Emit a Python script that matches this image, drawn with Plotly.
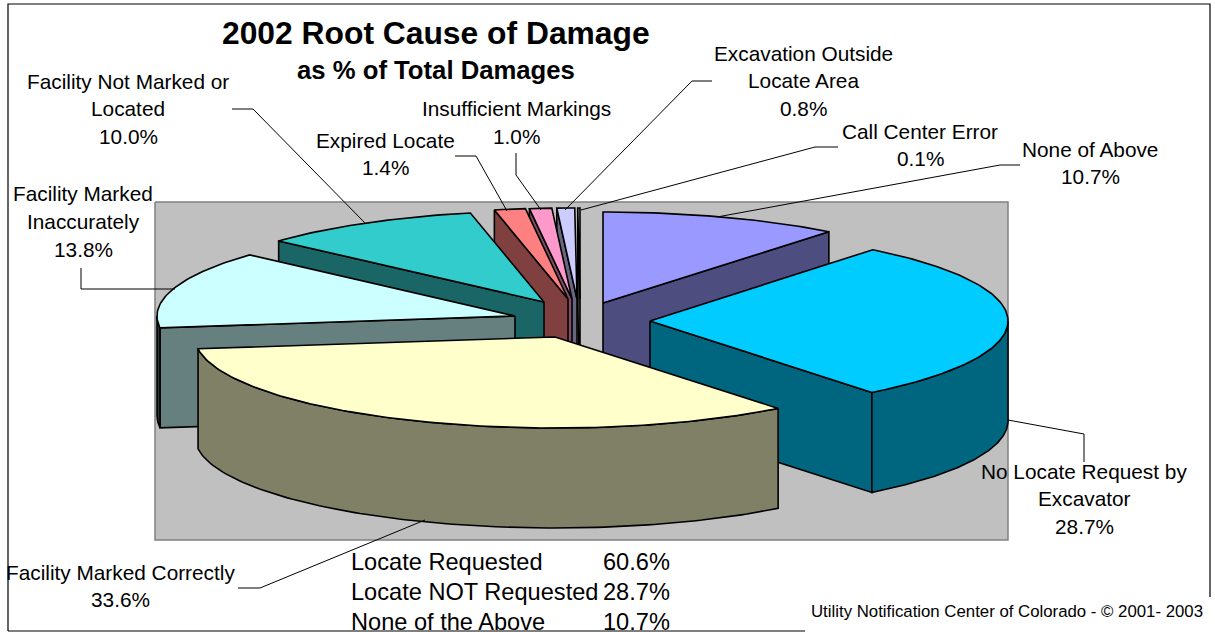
import numpy as np
import plotly.graph_objects as go

# ---- data ----
categories = ["None of Above", "No Locate Request by Excavator", "Facility Marked Correctly",
              "Facility Marked Inaccurately", "Facility Not Marked or Located", "Expired Locate",
              "Insufficient Markings", "Excavation Outside Locate Area", "Call Center Error"]
values = [10.7, 28.7, 33.6, 13.8, 10.0, 1.4, 1.0, 0.8, 0.1]
summary_labels = ["Locate Requested", "Locate NOT Requested", "None of the Above"]
summary_values = [60.6, 28.7, 10.7]

# ---- projection / style ----
RY, DEPTH = 91, 100
radius_x = [363, 358, 360, 358, 358, 358, 358, 358, 358]
apex_x = [603, 650, 555, 515, 544, 568, 572, 577, 580]
apex_y = [303, 321, 337, 316, 302, 299, 299, 299, 299]
top_col = ["#9999FF", "#00CCFF", "#FFFFCC", "#CCFFFF", "#33CCCC", "#FF8080", "#FF99CC", "#CCCCFF", "#C0C0C0"]
cut_col = ["#4D4D80", "#006680", "#808066", "#668080", "#1A6666", "#804040", "#804D66", "#666680", "#606060"]
rim_col = ["#4D4D80", "#006680", "#808066", "#283333", "#1A6666", "#804040", "#804D66", "#666680", "#606060"]
draw_order = [8, 7, 6, 5, 4, 3, 0, 1, 2]

fig = go.Figure()


def poly(xs, ys, fill, lw=1.6, color="black"):
    fig.add_trace(go.Scatter(x=list(xs), y=list(ys), mode="lines", fill="toself", fillcolor=fill,
                             line=dict(color=color, width=lw), hoverinfo="skip", showlegend=False))


def line(xs, ys, color="black", lw=1):
    fig.add_trace(go.Scatter(x=xs, y=ys, mode="lines", line=dict(color=color, width=lw),
                             hoverinfo="skip", showlegend=False))


# frame and plot area
line([8, 8, 1210, 1210], [631, 4, 4, 597], "#000000", 1.2)
line([8, 805], [631, 631], "#000000", 1.2)
poly([155, 1008, 1008, 155, 155], [202, 202, 540, 540, 202], "#C0C0C0", 1.5, "#808080")

# slices
total = sum(values)
edges = np.cumsum([0] + values) / total * 2 * np.pi
for i in draw_order:
    a0, a1 = edges[i], edges[i + 1]
    cx, cy, RX = apex_x[i], apex_y[i], radius_x[i]
    t = np.linspace(a0, a1, max(3, int((a1 - a0) * 60)))
    ax, ay = cx + RX * np.sin(t), cy - RY * np.cos(t)
    # only the radial cuts that face the viewer
    visible = []
    if np.sin(a0) < -1e-9:
        visible.append(a0)
    if np.sin(a1) > 1e-9:
        visible.append(a1)
    for a in visible:
        ex, ey = cx + RX * np.sin(a), cy - RY * np.cos(a)
        poly([cx, ex, ex, cx, cx], [cy, ey, ey + DEPTH, cy + DEPTH, cy], cut_col[i])
    lo, hi = max(a0, np.pi / 2), min(a1, 3 * np.pi / 2)
    if hi > lo:
        r = np.linspace(lo, hi, 120)
        rx, ry = cx + RX * np.sin(r), cy - RY * np.cos(r)
        poly(np.r_[rx, rx[::-1], rx[0]], np.r_[ry, ry[::-1] + DEPTH, ry[0]], rim_col[i])
    poly(np.r_[cx, ax, cx], np.r_[cy, ay, cy], top_col[i])

# leader lines
leaders = [
    ([232, 253, 365], [109, 109, 223]),
    ([81, 81, 175], [268, 289, 289]),
    ([455, 476, 507], [156, 156, 211]),
    ([516, 516, 541], [153, 175, 210]),
    ([712, 692, 565], [81, 81, 210]),
    ([838, 815, 581], [147, 147, 210]),
    ([1020, 1000, 717], [165, 165, 217]),
    ([1008, 1084, 1084], [420, 434, 462]),
    ([238, 260, 425], [588, 588, 520]),
]
for xs, ys in leaders:
    line(xs, ys)

FONT = "Liberation Sans, Arial, sans-serif"


def txt(x, y, s, size=20.8, anchor="center", bold=False):
    fig.add_annotation(x=x, y=y, text=f"<b>{s}</b>" if bold else s, showarrow=False, xanchor=anchor,
                       yanchor="middle", xref="x", yref="y", align="center",
                       font=dict(family=FONT, size=size, color="black"))


pct = [f"{v:.1f}%" for v in values]
label_lines = [
    (1090, [149, 176], ["None of Above"]),
    (1084, [471, 498, 526], ["No Locate Request by", "Excavator"]),
    (120, [572, 599], ["Facility Marked Correctly"]),
    (83, [193, 221, 249], ["Facility Marked", "Inaccurately"]),
    (128, [81, 108, 136], ["Facility Not Marked or", "Located"]),
    (385, [140, 167], ["Expired Locate"]),
    (516, [108, 136], ["Insufficient Markings"]),
    (803, [53, 80, 108], ["Excavation Outside", "Locate Area"]),
    (920, [131, 158], ["Call Center Error"]),
]
for i, (x, ys, lines) in enumerate(label_lines):
    for y, s in zip(ys, lines + [pct[i]]):
        txt(x, y, s)

txt(436, 33, "2002 Root Cause of Damage", 31.8, bold=True)
txt(436, 70, "as % of Total Damages", 25.7, bold=True)

for y, lab, val in zip([562, 592, 622], summary_labels, summary_values):
    txt(349, y, lab, 23.6, "left")
    txt(672, y, f"{val:.1f}%", 23.6, "right")

txt(1205, 611, "Utility Notification Center of Colorado - © 2001- 2003", 16.8, "right")

fig.update_layout(
    width=1215, height=632, margin=dict(l=0, r=0, t=0, b=0), showlegend=False,
    paper_bgcolor="white", plot_bgcolor="white",
    xaxis=dict(range=[0, 1215], visible=False, fixedrange=True),
    yaxis=dict(range=[632, 0], visible=False, fixedrange=True),
)
fig.write_html("out.html", config={"displayModeBar": False},
               post_script="document.body.style.margin='0';")
